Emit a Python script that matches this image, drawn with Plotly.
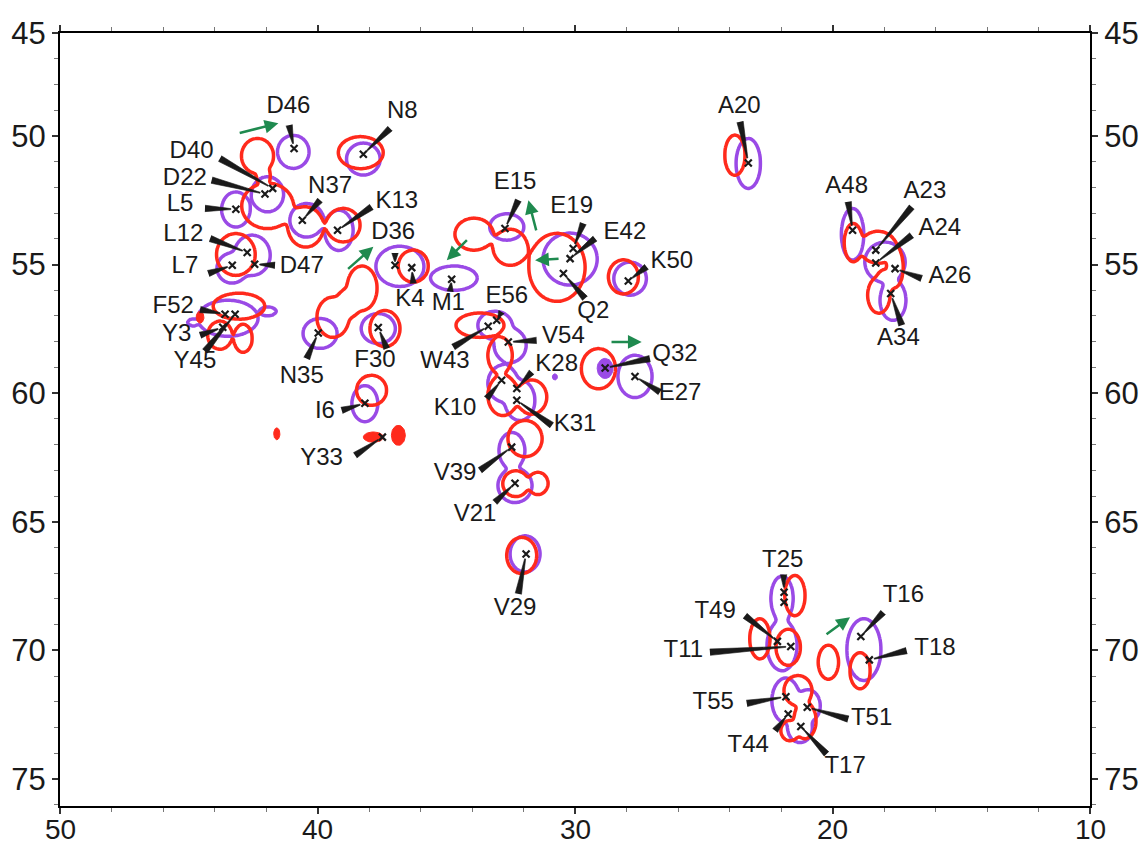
import numpy as np
import plotly.graph_objects as go

# ---------------- figure geometry ----------------
W, H = 1143, 844
ML, MR, MT, MB = 60, 53, 33, 38
X_RANGE = [50, 10]
Y_RANGE = [76.05, 46.0]

# ---------------- peak assignments (ppm) ----------------
PEAK_NAMES = ["D46", "N8", "D40", "D22", "L5", "N37", "K13", "L12", "L7", "D47",
              "D36", "K4", "M1", "E15", "E19", "E42", "Q2", "K50", "E56", "W43",
              "V54", "K28", "K10", "K31", "V39", "V21", "V29", "Q32", "E27", "F52",
              "Y3", "Y45", "N35", "F30", "I6", "Y33", "A20", "A48", "A23", "A24",
              "A26", "A34", "T25", "T49", "T11", "T16", "T18", "T55", "T51", "T44", "T17"]
PEAK_X = [40.91, 38.22, 41.74, 42.04, 43.17, 40.59, 39.22, 42.73, 43.31, 42.44,
          36.99, 36.34, 34.79, 32.72, 30.07, 30.19, 30.45, 27.93, 33.04, 33.37,
          32.59, 32.26, 32.85, 32.26, 32.46, 32.33, 31.90, 28.83, 27.67, 43.59,
          43.68, 43.20, 39.97, 37.64, 38.16, 37.48, 23.27, 19.22, 18.32, 18.32,
          17.57, 17.74, 21.88, 22.14, 21.62, 18.90, 18.57, 21.81, 20.98, 21.72, 21.23]
PEAK_Y = [50.49, 50.71, 52.04, 52.26, 52.85, 53.28, 53.67, 54.53, 55.03, 54.99,
          55.03, 55.12, 55.57, 53.60, 54.38, 54.77, 55.35, 55.64, 57.17, 57.40,
          58.01, 59.82, 59.50, 60.28, 62.10, 63.50, 66.25, 59.02, 59.35, 56.93,
          57.44, 56.93, 57.66, 57.45, 60.39, 61.71, 51.05, 53.67, 54.44, 54.94,
          55.16, 56.13, 67.74, 69.65, 69.85, 69.46, 70.37, 71.80, 72.21, 72.47, 72.96]
LABEL_X = [41.13, 36.71, 44.89, 45.15, 45.34, 39.51, 36.92, 45.21, 45.15, 40.61,
           37.06, 36.41, 34.92, 32.33, 30.13, 28.06, 29.29, 26.24, 32.65, 35.05,
           30.45, 30.71, 34.66, 30.00, 34.66, 33.88, 32.33, 26.12, 25.92, 45.60,
           45.47, 44.76, 40.61, 37.77, 39.71, 39.84, 23.62, 19.45, 16.41, 15.83,
           15.44, 17.44, 21.93, 24.56, 25.79, 17.25, 16.02, 24.63, 18.48, 23.27, 19.51]
LABEL_Y = [48.87, 49.06, 50.62, 51.66, 52.69, 51.98, 52.56, 53.86, 55.09, 55.09,
           53.79, 56.39, 56.52, 51.85, 52.76, 53.79, 56.84, 54.90, 56.26, 58.79,
           57.82, 58.92, 60.60, 61.25, 63.13, 64.75, 68.39, 58.53, 60.02, 56.65,
           57.75, 58.79, 59.37, 58.75, 60.74, 62.55, 48.87, 51.98, 52.18, 53.60,
           55.48, 57.88, 66.53, 68.52, 70.01, 67.87, 69.94, 72.06, 72.67, 73.70, 74.55]
LEADER_X = [41.10, 37.18, 43.79, 44.11, 44.37, 39.90, 37.90, 44.17, 44.24, 41.65,
            36.99, 36.28, 34.85, 32.20, 29.68, 29.22, 29.61, 27.22, 32.85, 34.73,
            31.49, 31.68, 33.43, 30.90, 33.69, 33.11, 32.20, 27.09, 26.70, 44.56,
            44.56, 44.37, 40.42, 37.31, 39.06, 38.54, 23.59, 19.39, 16.92, 16.92,
            16.54, 17.31, 21.90, 23.40, 24.76, 18.03, 17.12, 23.33, 19.39, 22.23, 20.23]
LEADER_Y = [49.58, 49.71, 50.88, 51.72, 52.82, 52.50, 52.76, 53.99, 55.35, 55.03,
            54.55, 55.74, 56.05, 52.50, 53.40, 53.99, 56.32, 55.09, 56.84, 58.21,
            57.95, 59.18, 60.21, 61.25, 63.00, 64.24, 67.80, 58.66, 59.96, 56.75,
            57.75, 58.37, 58.66, 58.27, 60.67, 62.42, 49.45, 52.56, 52.76, 53.86,
            55.54, 57.36, 67.05, 68.65, 70.07, 68.52, 70.01, 72.06, 72.67, 73.12, 74.03]
EXTRA_MARK_X = [21.88]
EXTRA_MARK_Y = [68.13]

# ---------------- contour peaks (centre, half-widths in ppm) ----------------
PURPLE_CX = [40.94, 38.22, 41.94, 43.17, 40.42, 39.17, 42.54, 43.32, 36.8, 34.7,
             43.48, 41.92, 44.83, 39.9, 37.64, 38.16, 32.65, 30.19, 27.86, 33.11,
             32.52, 32.8, 32.14, 32.45, 32.33, 31.94, 27.67, 23.27, 19.22, 17.96,
             17.65, 21.96, 21.96, 18.78, 21.81, 20.95, 21.26]
PURPLE_CY = [50.62, 50.9, 52.27, 52.86, 53.28, 53.67, 54.64, 55.14, 55.07, 55.53,
             57.09, 56.82, 57.25, 57.68, 57.49, 60.41, 53.54, 54.79, 55.55, 57.36,
             58.14, 59.62, 60.28, 62.23, 63.59, 66.25, 59.35, 51.07, 53.82, 54.91,
             56.39, 67.98, 69.81, 69.97, 71.95, 72.15, 73.04]
PURPLE_RX = [0.61, 0.65, 0.62, 0.55, 0.65, 0.55, 0.7, 0.58, 0.93, 0.9,
             1.17, 0.31, 0.2, 0.66, 0.66, 0.5, 0.66, 1.05, 0.63, 0.66,
             0.62, 0.58, 0.58, 0.5, 0.66, 0.58, 0.66, 0.47, 0.43, 0.78,
             0.5, 0.43, 0.58, 0.66, 0.54, 0.47, 0.47]
PURPLE_RY = [0.64, 0.62, 0.68, 0.68, 0.65, 0.78, 0.78, 0.58, 0.78, 0.47,
             0.7, 0.16, 0.12, 0.58, 0.58, 0.7, 0.51, 1.01, 0.64, 0.54,
             0.66, 0.7, 0.78, 0.7, 0.66, 0.7, 0.82, 0.97, 1.0, 0.78,
             0.78, 0.86, 0.97, 1.2, 0.86, 0.62, 0.54]

RED_CX = [42.33, 38.32, 41.94, 40.46, 39.0, 43.17, 36.28, 39.4, 38.27, 37.38,
          37.9, 43.05, 43.79, 42.89, 33.92, 32.52, 30.7, 28.12, 33.69, 32.91,
          32.8, 31.68, 31.94, 32.3, 31.44, 32.07, 29.09, 23.79, 19.19, 18.23,
          17.57, 18.2, 21.46, 22.82, 21.72, 20.16, 18.93, 21.34, 21.07, 21.65,
          38.8, 42.1, 17.95]
RED_CY = [50.78, 50.65, 52.72, 53.54, 53.47, 54.61, 55.06, 57.05, 55.92, 57.49,
          59.89, 56.62, 57.75, 57.87, 53.82, 54.33, 55.11, 55.48, 57.36, 58.53,
          60.09, 60.15, 61.77, 63.52, 63.51, 66.31, 59.05, 50.75, 54.15, 54.33,
          55.1, 56.19, 67.87, 69.55, 69.88, 70.46, 70.79, 71.56, 72.73, 73.12,
          56.5, 51.55, 55.65]
RED_RX = [0.62, 0.87, 1.0, 0.68, 0.65, 0.75, 0.58, 0.62, 0.58, 0.58,
          0.58, 1.0, 0.47, 0.35, 0.74, 0.66, 1.09, 0.58, 0.93, 0.47,
          0.58, 0.58, 0.66, 0.5, 0.39, 0.58, 0.66, 0.39, 0.35, 0.7,
          0.31, 0.43, 0.39, 0.39, 0.47, 0.39, 0.39, 0.54, 0.43, 0.35,
          0.45, 0.25, 0.33]
RED_RY = [0.68, 0.62, 0.88, 0.78, 0.65, 0.81, 0.62, 0.78, 0.86, 0.7,
          0.58, 0.5, 0.54, 0.54, 0.62, 0.7, 1.32, 0.66, 0.47, 0.7,
          0.78, 0.66, 0.7, 0.5, 0.43, 0.7, 0.78, 0.78, 0.74, 0.62,
          0.78, 0.7, 0.78, 0.78, 0.7, 0.66, 0.7, 0.58, 0.7, 0.39,
          0.55, 0.35, 0.45]

# small filled spots
FILL_RED_CX = [37.83, 36.86, 41.58, 44.56]
FILL_RED_CY = [61.71, 61.64, 61.58, 57.05]
FILL_RED_RX = [0.39, 0.27, 0.12, 0.15]
FILL_RED_RY = [0.2, 0.39, 0.23, 0.23]
FILL_PURPLE_CX = [28.83, 30.78]
FILL_PURPLE_CY = [59.04, 59.37]
FILL_PURPLE_RX = [0.31, 0.1]
FILL_PURPLE_RY = [0.39, 0.12]

# green shift arrows (tail -> head)
ARROW_TAIL_X = [43.08, 38.87, 34.14, 31.49, 30.58, 28.64, 20.29]
ARROW_TAIL_Y = [49.90, 55.22, 53.99, 53.73, 54.77, 58.01, 69.42]
ARROW_HEAD_X = [41.52, 37.83, 34.98, 31.81, 31.55, 27.41, 19.32]
ARROW_HEAD_Y = [49.51, 54.31, 54.83, 52.50, 54.83, 58.01, 68.71]

Y_TICKS = [46, 50, 55, 60, 65, 70, 75]
Y_TICKTEXT = ["45", "50", "55", "60", "65", "70", "75"]
X_TICKS = [50, 40, 30, 20, 10]
X_TICKTEXT = ["50", "40", "30", "20", "10"]

PURPLE = "#9a4ae6"
RED = "#ff2a1c"
GREEN = "#1f8a4f"
INK = "#1a1a1a"
FONT = "Liberation Sans, Arial, Helvetica, sans-serif"

# pixel scale (for leader wedges)
SX = (W - ML - MR) / abs(X_RANGE[0] - X_RANGE[1])
SY = (H - MT - MB) / abs(Y_RANGE[0] - Y_RANGE[1])

# ---------------- spectrum fields ----------------
C = 3.0
LEVEL = float(np.exp(-C))
gx = np.arange(15.0, 46.0, 0.06)
gy = np.arange(48.0, 75.5, 0.06)
GX, GY = np.meshgrid(gx, gy)


def field(cx, cy, rx, ry):
    z = np.zeros_like(GX)
    for a, b, r1, r2 in zip(cx, cy, rx, ry):
        z += np.exp(-C * (((GX - a) / r1) ** 2 + ((GY - b) / r2) ** 2))
    return z.astype(np.float32)


def contour_trace(z, color):
    return go.Contour(
        x=gx, y=gy, z=z, autocontour=False,
        contours=dict(start=LEVEL, end=LEVEL + 1e-4, size=1, coloring="lines",
                      showlabels=False),
        line=dict(width=3.5, smoothing=1.0),
        colorscale=[[0, color], [1, color]], showscale=False,
        hoverinfo="skip", showlegend=False,
    )


def ellipse_fill(cx, cy, rx, ry, color):
    t = np.linspace(0, 2 * np.pi, 40)
    xs, ys = [], []
    for a, b, r1, r2 in zip(cx, cy, rx, ry):
        xs += list(a + r1 * np.cos(t)) + [None]
        ys += list(b + r2 * np.sin(t)) + [None]
    return go.Scatter(x=xs, y=ys, mode="lines", fill="toself", fillcolor=color,
                      line=dict(color=color, width=1), hoverinfo="skip",
                      showlegend=False)


fig = go.Figure()
fig.add_trace(contour_trace(field(PURPLE_CX, PURPLE_CY, PURPLE_RX, PURPLE_RY), PURPLE))
fig.add_trace(contour_trace(field(RED_CX, RED_CY, RED_RX, RED_RY), RED))
fig.add_trace(ellipse_fill(FILL_PURPLE_CX, FILL_PURPLE_CY, FILL_PURPLE_RX, FILL_PURPLE_RY, PURPLE))
fig.add_trace(ellipse_fill(FILL_RED_CX, FILL_RED_CY, FILL_RED_RX, FILL_RED_RY, RED))

# ---------------- leader wedges ----------------
wx, wy = [], []
for px, py, lx, ly in zip(PEAK_X, PEAK_Y, LEADER_X, LEADER_Y):
    dxp = (px - lx) * SX
    dyp = (py - ly) * SY
    L = float(np.hypot(dxp, dyp))
    if L < 1e-6:
        continue
    ux, uy = dxp / L, dyp / L
    stop = min(5.0, L * 0.3)
    ex_p, ey_p = px - ux * stop / SX, py - uy * stop / SY
    nx, ny = -uy, ux
    w0, w1 = 3.2, 0.5
    wx += [lx + nx * w0 / SX, ex_p + nx * w1 / SX, ex_p - nx * w1 / SX, lx - nx * w0 / SX, None]
    wy += [ly + ny * w0 / SY, ey_p + ny * w1 / SY, ey_p - ny * w1 / SY, ly - ny * w0 / SY, None]
fig.add_trace(go.Scatter(x=wx, y=wy, mode="lines", fill="toself", fillcolor=INK,
                         line=dict(color=INK, width=0.6), hoverinfo="skip", showlegend=False))

# ---------------- peak markers ----------------
fig.add_trace(go.Scatter(x=PEAK_X + EXTRA_MARK_X, y=PEAK_Y + EXTRA_MARK_Y, mode="markers",
                         marker=dict(symbol="x-thin", size=7, line=dict(width=2.2, color=INK)),
                         hoverinfo="skip", showlegend=False))

# ---------------- labels ----------------
fig.add_trace(go.Scatter(x=LABEL_X, y=LABEL_Y, mode="text", text=PEAK_NAMES,
                         textposition="middle center",
                         textfont=dict(family=FONT, size=24, color=INK),
                         hoverinfo="skip", showlegend=False))

# dummy trace for right-hand axis
fig.add_trace(go.Scatter(x=[30], y=[60], yaxis="y2", mode="markers",
                         marker=dict(opacity=0), hoverinfo="skip", showlegend=False))

# ---------------- arrows ----------------
for tx, ty, hx, hy in zip(ARROW_TAIL_X, ARROW_TAIL_Y, ARROW_HEAD_X, ARROW_HEAD_Y):
    fig.add_annotation(x=hx, y=hy, ax=tx, ay=ty, xref="x", yref="y", axref="x", ayref="y",
                       text="", showarrow=True, arrowhead=2, arrowsize=1.1,
                       arrowwidth=2.5, arrowcolor=GREEN)

# x tick labels placed just below the axis
for v, t in zip(X_TICKS, X_TICKTEXT):
    fig.add_annotation(x=v, y=0, xref="x", yref="paper", text=t, showarrow=False,
                       xanchor="center", yanchor="top", yshift=-9, height=26,
                       valign="middle", borderpad=0,
                       font=dict(family=FONT, size=28, color=INK))

axis_common = dict(showgrid=False, zeroline=False, showline=True, linewidth=2,
                   linecolor="black", ticks="outside", ticklen=6, tickwidth=1.5,
                   tickcolor="#333", automargin=False,
                   tickfont=dict(family=FONT, size=31, color=INK))
minor_y = dict(tick0=46, dtick=1, ticks="outside", ticklen=4, tickwidth=1, tickcolor="#777")

fig.update_layout(
    width=W, height=H, margin=dict(l=ML, r=MR, t=MT, b=MB, autoexpand=False),
    paper_bgcolor="white", plot_bgcolor="white", showlegend=False,
    xaxis=dict(range=X_RANGE, tickvals=X_TICKS, mirror="ticks", showticklabels=False,
               minor=dict(tick0=50, dtick=2, ticks="outside", ticklen=4, tickwidth=1,
                          tickcolor="#777"), **axis_common),
    yaxis=dict(range=Y_RANGE, tickvals=Y_TICKS, ticktext=Y_TICKTEXT, mirror=True,
               minor=minor_y, **axis_common),
    yaxis2=dict(range=Y_RANGE, tickvals=Y_TICKS, ticktext=Y_TICKTEXT, overlaying="y",
                side="right", minor=minor_y, **axis_common),
)

fig.write_html("out.html")
